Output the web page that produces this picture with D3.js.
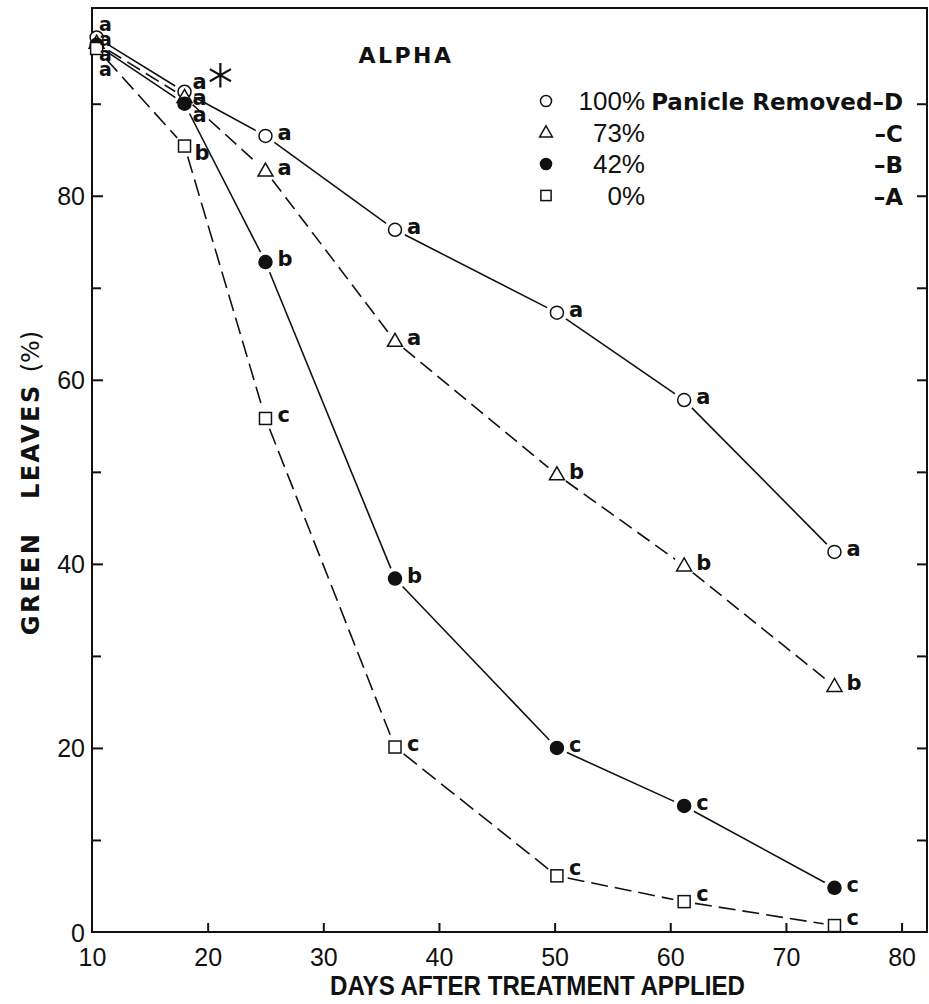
<!DOCTYPE html>
<html>
<head>
<meta charset="utf-8">
<script src="https://cdn.jsdelivr.net/npm/d3@7"></script>
<style>
  html, body { margin: 0; padding: 0; background: #fff; }
  svg { display: block; }
</style>
</head>
<body>
<div id="chart"></div>
<script>
// data
const days = [10.4, 18, 25, 36.2, 50.2, 61.2, 74.2];
const removed100 = [97.2, 91.3, 86.5, 76.3, 67.3, 57.8, 41.3];
const removed73 = [96.6, 90.7, 82.7, 64.2, 49.7, 39.8, 26.7];
const removed42 = [96.4, 90.0, 72.8, 38.4, 20.0, 13.7, 4.8];
const removed0 = [96.0, 85.4, 55.8, 20.1, 6.1, 3.3, 0.7];
const letters100 = ['a', 'a', 'a', 'a', 'a', 'a', 'a'];
const letters73 = ['a', 'a', 'a', 'a', 'b', 'b', 'b'];
const letters42 = ['a', 'a', 'b', 'b', 'c', 'c', 'c'];
const letters0 = ['a', 'b', 'c', 'c', 'c', 'c', 'c'];
const xTicks = [10, 20, 30, 40, 50, 60, 70, 80];
const yTicks = [0, 20, 40, 60, 80];
const yMinorTicks = [10, 30, 50, 70, 90];

const series = [
  { key: 'D', pct: '100%', values: removed100, letters: letters100, symbol: 'circle', dash: null },
  { key: 'C', pct: '73%', values: removed73, letters: letters73, symbol: 'triangle', dash: '15,7' },
  { key: 'B', pct: '42%', values: removed42, letters: letters42, symbol: 'dot', dash: null },
  { key: 'A', pct: '0%', values: removed0, letters: letters0, symbol: 'square', dash: '17,7' },
];

const width = 929, height = 1004;
const narrow = '"Liberation Sans Narrow", "Arial Narrow", "Liberation Sans", sans-serif';
const bold = '"DejaVu Sans", "Liberation Sans", sans-serif';

const svg = d3.select('#chart').append('svg')
  .attr('width', width).attr('height', height);

const x = d3.scaleLinear().domain([10, 82.2]).range([92, 927]);
const y = d3.scaleLinear().domain([0, 100.4]).range([932, 8]);

// #region frame and axes
svg.append('rect')
  .attr('x', x.range()[0]).attr('y', y.range()[1])
  .attr('width', x.range()[1] - x.range()[0])
  .attr('height', y.range()[0] - y.range()[1])
  .attr('fill', 'none').attr('stroke', '#111').attr('stroke-width', 2);

const xAxis = svg.append('g')
  .attr('transform', `translate(0,${y(0)})`)
  .call(d3.axisBottom(x).tickValues(xTicks).tickSize(-9).tickPadding(16).tickFormat(d3.format('d')));

const yAxis = svg.append('g')
  .attr('transform', `translate(${x(10)},0)`)
  .call(d3.axisLeft(y).tickValues(yTicks).tickSize(-11).tickPadding(7).tickFormat(d3.format('d')));

const yMinor = svg.append('g')
  .attr('transform', `translate(${x(10)},0)`)
  .call(d3.axisLeft(y).tickValues(yMinorTicks).tickSize(-9).tickFormat(''));

const yRight = svg.append('g')
  .attr('transform', `translate(${x.range()[1]},0)`)
  .call(d3.axisRight(y).tickValues(d3.range(10, 100, 10)).tickSize(-10).tickFormat(''));

[xAxis, yAxis, yMinor, yRight].forEach(g => {
  g.select('.domain').remove();
  g.selectAll('line').attr('stroke', '#111').attr('stroke-width', 2);
  g.selectAll('text')
    .attr('font-family', narrow).attr('font-size', 25).attr('fill', '#111');
});
yAxis.selectAll('text').attr('dy', '0.36em');
xAxis.selectAll('.tick').filter(d => d === 10).select('line').remove();
yAxis.selectAll('.tick').filter(d => d === 0).select('line').remove();
// #endregion

// #region lines with gaps around markers
const gap = 11;
series.forEach(s => {
  const pts = s.values.map((v, i) => [x(days[i]), y(v)]);
  for (let i = 0; i < pts.length - 1; i++) {
    const [x0, y0] = pts[i], [x1, y1] = pts[i + 1];
    const len = Math.hypot(x1 - x0, y1 - y0);
    const ux = (x1 - x0) / len, uy = (y1 - y0) / len;
    const g0 = i === 0 ? 14 : gap;
    svg.append('line')
      .attr('x1', x0 + ux * g0).attr('y1', y0 + uy * g0)
      .attr('x2', x1 - ux * gap).attr('y2', y1 - uy * gap)
      .attr('stroke', '#111').attr('stroke-width', 1.6)
      .attr('stroke-dasharray', s.dash);
  }
});
// #endregion

// #region markers
function drawMarker(g, type, cx, cy, scale = 1) {
  if (type === 'circle' || type === 'dot') {
    g.append('circle').attr('cx', cx).attr('cy', cy).attr('r', 6.5 * scale)
      .attr('fill', type === 'dot' ? '#111' : '#fff')
      .attr('stroke', '#111').attr('stroke-width', 1.5);
  } else if (type === 'triangle') {
    const h = 13 * scale, w = 15 * scale;
    g.append('path')
      .attr('d', `M${cx},${cy - h * 0.6}L${cx + w / 2},${cy + h * 0.4}L${cx - w / 2},${cy + h * 0.4}Z`)
      .attr('fill', '#fff').attr('stroke', '#111').attr('stroke-width', 1.5);
  } else {
    const s = 12 * scale;
    g.append('rect').attr('x', cx - s / 2).attr('y', cy - s / 2)
      .attr('width', s).attr('height', s)
      .attr('fill', '#fff').attr('stroke', '#111').attr('stroke-width', 1.5);
  }
}

const marks = svg.append('g');
series.forEach(s => {
  s.values.forEach((v, i) => drawMarker(marks, s.symbol, x(days[i]), y(v)));
});
// #endregion

// #region significance letters
const letterG = svg.append('g')
  .attr('font-family', bold).attr('font-weight', 'bold')
  .attr('font-size', 21).attr('fill', '#111');

series.forEach((s, si) => {
  s.letters.forEach((l, i) => {
    let lx = x(days[i]) + 12;
    let ly = y(s.values[i]) + 4;
    let size = null;
    if (i === 0) {
      // stacked letters crowded at the first sampling date
      lx = x(10) + 7;
      ly = y(100) + 19 + si * 15;
      size = 19;
    } else if (i === 1 && si < 3) {
      lx = x(days[i]) + 8;
      ly = y(removed100[1]) - 3 + si * 16.5;
    } else if (i === 1) {
      lx = x(days[i]) + 10;
      ly = y(s.values[i]) + 14;
    } else if (s.symbol === 'square' && i >= 4) {
      ly = y(s.values[i]) - 1;
    }
    letterG.append('text').attr('x', lx).attr('y', ly)
      .attr('font-size', size).text(l);
  });
});
// #endregion

// #region annotations
svg.append('path')
  .attr('d', d3.symbol(d3.symbolAsterisk, 420)())
  .attr('transform', `translate(${x(21.1)},${y(93.1)})`)
  .attr('fill', 'none').attr('stroke', '#111').attr('stroke-width', 2.2);

svg.append('text')
  .attr('x', 406).attr('y', 63)
  .attr('text-anchor', 'middle')
  .attr('font-family', bold).attr('font-weight', 'bold')
  .attr('font-size', 22).attr('letter-spacing', 2.5).attr('fill', '#111')
  .text('ALPHA');

const legend = svg.append('g');
series.forEach((s, i) => {
  const ly = 101 + i * 31.5;
  drawMarker(legend, s.symbol, 546, ly, 0.85);
  legend.append('text')
    .attr('x', 645).attr('y', ly + 9)
    .attr('text-anchor', 'end')
    .attr('font-family', '"Liberation Sans", sans-serif')
    .attr('font-size', 26).attr('fill', '#111')
    .text(s.pct);
  legend.append('text')
    .attr('x', 903).attr('y', ly + 9)
    .attr('text-anchor', 'end')
    .attr('font-family', bold).attr('font-weight', 'bold')
    .attr('font-size', 23).attr('fill', '#111')
    .text(i === 0 ? 'Panicle Removed\u2013' + s.key : '\u2013' + s.key);
});

svg.append('text')
  .attr('x', 330).attr('y', 995)
  .attr('font-family', narrow).attr('font-weight', 'bold')
  .attr('font-size', 27).attr('fill', '#111')
  .attr('textLength', 415).attr('lengthAdjust', 'spacingAndGlyphs')
  .text('DAYS  AFTER  TREATMENT  APPLIED');

const yTitle = svg.append('text')
  .attr('transform', `translate(39,483) rotate(-90)`)
  .attr('text-anchor', 'middle')
  .attr('font-family', bold).attr('font-size', 24).attr('fill', '#111');
yTitle.append('tspan').attr('font-weight', 'bold').attr('letter-spacing', 2.5).text('GREEN\u00a0\u00a0 LEAVES ');
yTitle.append('tspan').text('(%)');
// #endregion
</script>
</body>
</html>
